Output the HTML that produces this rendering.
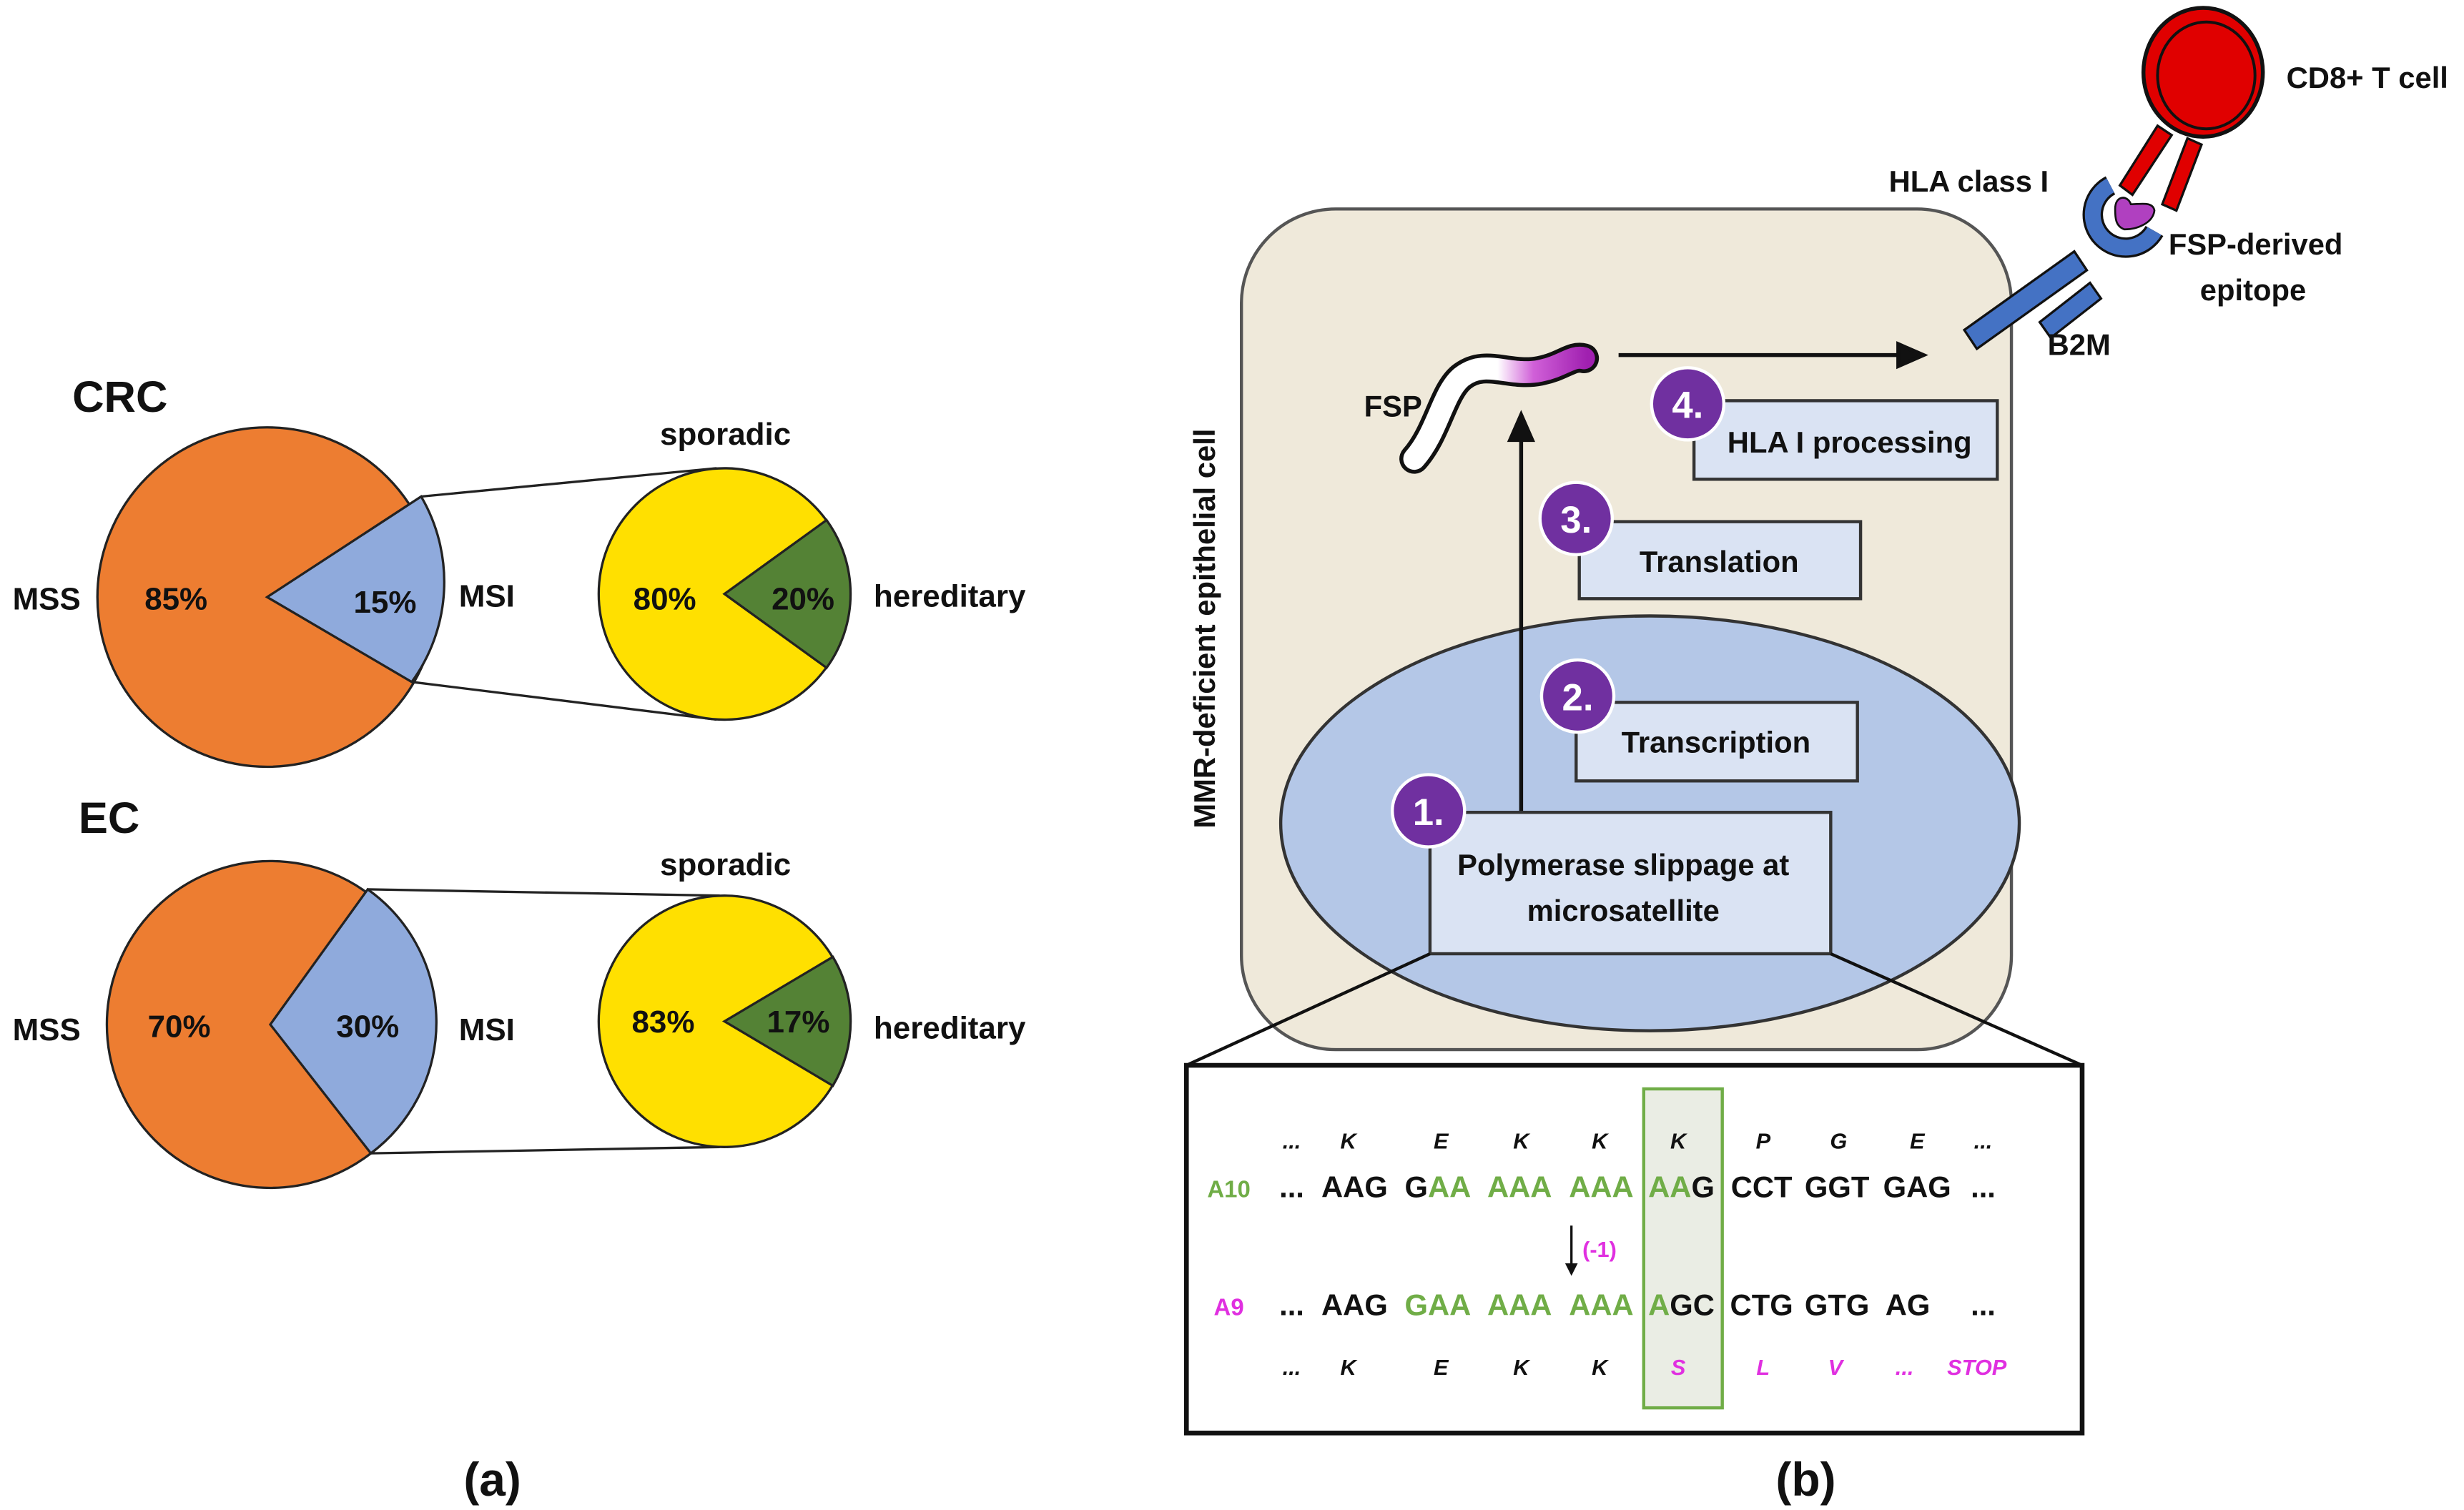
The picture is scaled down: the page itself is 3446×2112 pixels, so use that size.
<!DOCTYPE html>
<html><head><meta charset="utf-8"><style>
html,body{margin:0;padding:0;background:#fff;}
svg{display:block;}
text{font-family:"Liberation Sans",sans-serif;font-weight:bold;}
</style></head><body>
<svg width="3446" height="2112" viewBox="0 0 1568 961" xmlns="http://www.w3.org/2000/svg">
<defs>
<linearGradient id="fsp" gradientUnits="userSpaceOnUse" x1="896" y1="0" x2="1010" y2="0">
<stop offset="0" stop-color="#fff"/><stop offset="0.5" stop-color="#fff"/><stop offset="0.7" stop-color="#d060d8"/><stop offset="1" stop-color="#a020b0"/>
</linearGradient>
</defs>
<rect width="1568" height="961" fill="#fff"/>
<!-- CRC -->
<g stroke="#222" stroke-width="1.5">
<line x1="268" y1="316" x2="456" y2="298"/>
<line x1="262" y1="434" x2="456" y2="458"/>
<circle cx="170" cy="380" r="108" fill="#ed7d31"/>
<path d="M170,380 L268,316 A108,108 0 0,1 262,434 Z" fill="#8faadc"/>
<circle cx="461" cy="378" r="80" fill="#ffe000"/>
<path d="M461,378 L526,331 A80,80 0 0,1 526,425 Z" fill="#548235"/>
</g>
<!-- EC -->
<g stroke="#222" stroke-width="1.5">
<line x1="234" y1="566" x2="458" y2="570"/>
<line x1="236" y1="734" x2="458" y2="730"/>
<circle cx="172" cy="652" r="104" fill="#ed7d31"/>
<path d="M172,652 L234,566 A104,104 0 0,1 236,734 Z" fill="#8faadc"/>
<circle cx="461" cy="650" r="80" fill="#ffe000"/>
<path d="M461,650 L530,609 A80,80 0 0,1 530,691 Z" fill="#548235"/>
</g>
<g font-size="20" fill="#111">
<text x="46" y="262" font-size="28">CRC</text>
<text x="50" y="530" font-size="28">EC</text>
<text x="8" y="388">MSS</text><text x="92" y="388">85%</text><text x="225" y="390">15%</text><text x="292" y="386">MSI</text>
<text x="420" y="283">sporadic</text><text x="403" y="388">80%</text><text x="491" y="388">20%</text><text x="556" y="386">hereditary</text>
<text x="8" y="662">MSS</text><text x="94" y="660">70%</text><text x="214" y="660">30%</text><text x="292" y="662">MSI</text>
<text x="420" y="557">sporadic</text><text x="402" y="657">83%</text><text x="488" y="657">17%</text><text x="556" y="661">hereditary</text>
</g>
<text x="295" y="952" font-family="Liberation Serif" font-size="30" fill="#111">(a)</text>
<text x="1130" y="952" font-family="Liberation Serif" font-size="30" fill="#111">(b)</text>

<!-- Cell -->
<rect x="790" y="133" width="490" height="535" rx="60" fill="#efe9da" stroke="#555" stroke-width="2"/>
<text transform="translate(773,400) rotate(-90)" text-anchor="middle" font-size="19" fill="#111">MMR-deficient epithelial cell</text>
<ellipse cx="1050" cy="524" rx="235" ry="132" fill="#b4c7e7" stroke="#333" stroke-width="2"/>
<!-- arrows -->
<g stroke="#111" stroke-width="2.5" fill="#111">
<line x1="968" y1="517" x2="968" y2="278"/>
<path d="M961,280 L968,264 L975,280 Z"/>
<line x1="1030" y1="226" x2="1210" y2="226"/>
<path d="M1208,219 L1224,226 L1208,233 Z"/>
</g>
<!-- boxes -->
<g fill="#dae3f3" stroke="#333" stroke-width="2">
<rect x="910" y="517" width="255" height="90"/>
<rect x="1003" y="447" width="179" height="50"/>
<rect x="1005" y="332" width="179" height="49"/>
<rect x="1078" y="255" width="193" height="50"/>
</g>
<g font-size="19" fill="#111" text-anchor="middle">
<text x="1033" y="557">Polymerase slippage at</text>
<text x="1033" y="586">microsatellite</text>
<text x="1092" y="479">Transcription</text>
<text x="1094" y="364">Translation</text>
<text x="1177" y="288">HLA I processing</text>
</g>
<g fill="#7030a0" stroke="#fff" stroke-width="2">
<circle cx="909" cy="516" r="23"/><circle cx="1004" cy="443" r="23"/>
<circle cx="1003" cy="330" r="23"/><circle cx="1074" cy="257" r="23"/>
</g>
<g font-size="24" fill="#fff" text-anchor="middle">
<text x="909" y="525">1.</text><text x="1004" y="452">2.</text>
<text x="1003" y="339">3.</text><text x="1074" y="266">4.</text>
</g>
<!-- FSP -->
<path d="M900,292 C915,275 918,250 930,240 C945,228 960,240 980,236 C995,233 1000,226 1008,228" fill="none" stroke="#111" stroke-width="19" stroke-linecap="round"/>
<path d="M900,292 C915,275 918,250 930,240 C945,228 960,240 980,236 C995,233 1000,226 1008,228" fill="none" stroke="url(#fsp)" stroke-width="14" stroke-linecap="round"/>
<text x="868" y="265" font-size="19" fill="#111">FSP</text>
<!-- HLA / T cell -->
<g stroke="#111" stroke-width="1.5" fill="#e00000">
<path d="M1349,118 L1373,80 L1382,86 L1357,124 Z"/>
<path d="M1376,130 L1392,88 L1401,92 L1385,134 Z"/>
</g>
<ellipse cx="1402" cy="46" rx="38" ry="41" fill="#e00000" stroke="#111" stroke-width="2.5"/>
<ellipse cx="1404" cy="48" rx="31" ry="34" fill="none" stroke="#111" stroke-width="1.8"/>
<g stroke="#111" stroke-width="1.5" fill="#4472c4">
<path d="M1250,210 L1320,160 L1328,172 L1258,222 Z"/>
<path d="M1298,205 L1330,180 L1337,190 L1305,215 Z"/>
</g>
<path d="M1343,118 A21,21 0 1,0 1371,147" fill="none" stroke="#111" stroke-width="13"/>
<path d="M1343,118 A21,21 0 1,0 1371,147" fill="none" stroke="#4472c4" stroke-width="10"/>
<path d="M1346,133 C1346,124 1354,124 1356,130 C1362,130 1370,128 1371,134 C1370,142 1360,146 1352,146 C1346,144 1346,138 1346,133 Z" fill="#b040c0" stroke="#111" stroke-width="1.2"/>
<g font-size="19" fill="#111">
<text x="1455" y="56">CD8+ T cell</text>
<text x="1202" y="122">HLA class I</text>
<text x="1380" y="162">FSP-derived</text>
<text x="1400" y="191">epitope</text>
<text x="1303" y="226">B2M</text>
</g>
<!-- sequence box -->
<g stroke="#111" stroke-width="2">
<line x1="910" y1="607" x2="755" y2="678"/>
<line x1="1165" y1="607" x2="1325" y2="678"/>
</g>
<rect x="755" y="678" width="570" height="234" fill="#fff" stroke="#111" stroke-width="3"/>
<rect x="1046" y="693" width="50" height="203" fill="#eaede4" stroke="#70ad47" stroke-width="2"/>
<g font-size="14" font-style="italic" fill="#111" text-anchor="middle">
<text x="822" y="731">...</text><text x="858" y="731">K</text><text x="917" y="731">E</text><text x="968" y="731">K</text><text x="1018" y="731">K</text><text x="1068" y="731">K</text><text x="1122" y="731">P</text><text x="1170" y="731">G</text><text x="1220" y="731">E</text><text x="1262" y="731">...</text>
<text x="822" y="875">...</text><text x="858" y="875">K</text><text x="917" y="875">E</text><text x="968" y="875">K</text><text x="1018" y="875">K</text>
<g fill="#e030e0"><text x="1068" y="875">S</text><text x="1122" y="875">L</text><text x="1168" y="875">V</text><text x="1212" y="875">...</text><text x="1258" y="875">STOP</text></g>
</g>
<g font-size="19" fill="#111" text-anchor="middle">
<text x="782" y="762" font-size="15" fill="#70ad47">A10</text>
<text x="822" y="762">...</text><text x="862" y="762">AAG</text>
<text x="915" y="762">G<tspan fill="#70ad47">AA</tspan></text>
<text x="967" y="762" fill="#70ad47">AAA</text><text x="1019" y="762" fill="#70ad47">AAA</text>
<text x="1070" y="762"><tspan fill="#70ad47">AA</tspan>G</text>
<text x="1121" y="762">CCT</text><text x="1169" y="762">GGT</text><text x="1220" y="762">GAG</text><text x="1262" y="762">...</text>
<text x="782" y="837" font-size="15" fill="#e030e0">A9</text>
<text x="822" y="837">...</text><text x="862" y="837">AAG</text>
<text x="915" y="837" fill="#70ad47">GAA</text>
<text x="967" y="837" fill="#70ad47">AAA</text><text x="1019" y="837" fill="#70ad47">AAA</text>
<text x="1070" y="837"><tspan fill="#70ad47">A</tspan>GC</text>
<text x="1121" y="837">CTG</text><text x="1169" y="837">GTG</text><text x="1214" y="837">AG</text><text x="1262" y="837">...</text>
</g>
<line x1="1000" y1="780" x2="1000" y2="806" stroke="#111" stroke-width="1.5"/>
<path d="M996,804 L1000,812 L1004,804 Z" fill="#111"/>
<text x="1007" y="800" font-size="14" fill="#e030e0">(-1)</text>
</svg>
</body></html>
